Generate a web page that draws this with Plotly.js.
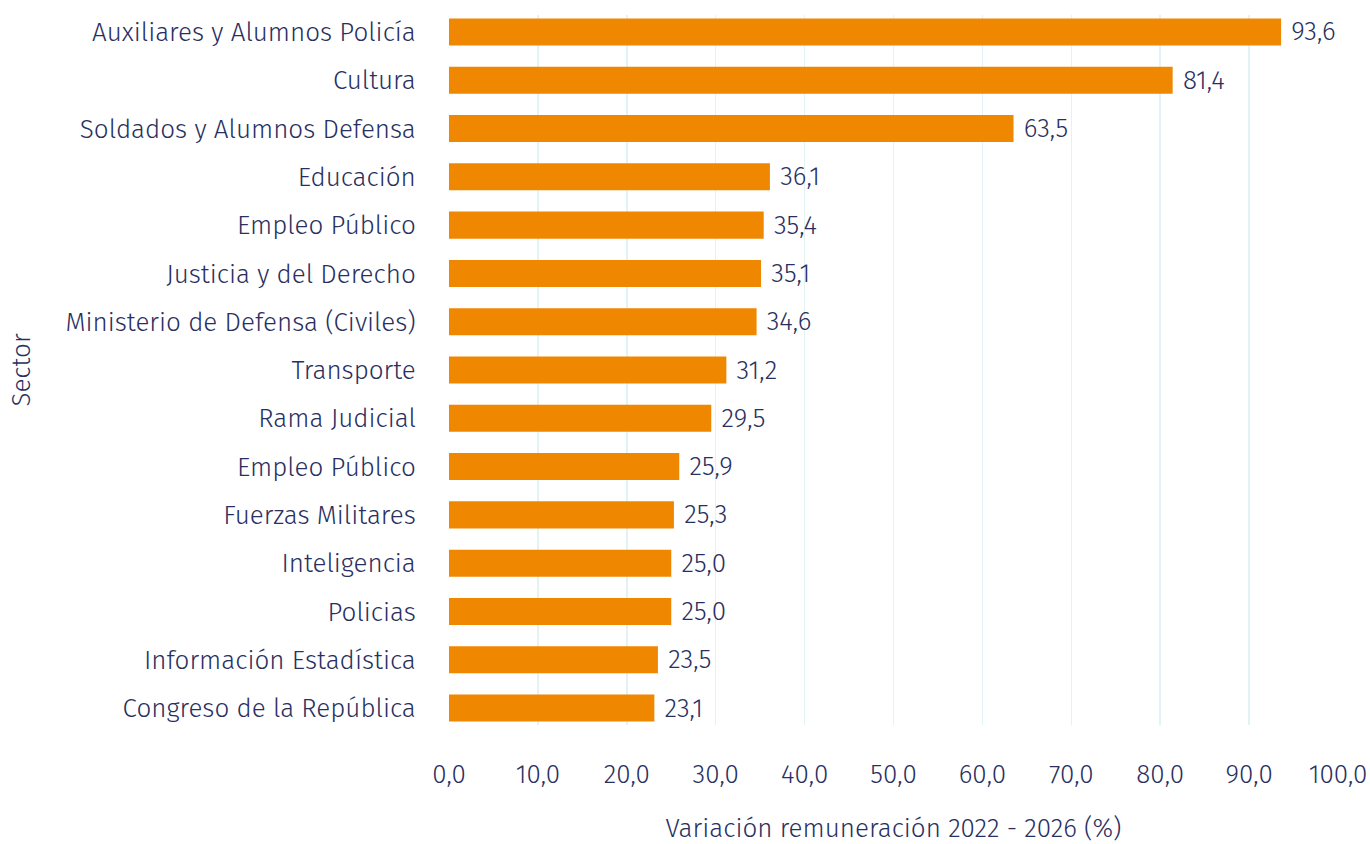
<!DOCTYPE html>
<html><head><meta charset="utf-8">
<script src="https://cdn.plot.ly/plotly-3.0.1.min.js"></script>
<style>html,body{margin:0;padding:0;background:#fff}</style>
</head><body>
<div id="chart" style="width:1370px;height:844px"></div>
<script>
const sectors = ["Auxiliares y Alumnos Policía","Cultura","Soldados y Alumnos Defensa","Educación","Empleo Público","Justicia y del Derecho","Ministerio de Defensa (Civiles)","Transporte","Rama Judicial","Empleo Público\u200B","Fuerzas Militares","Inteligencia","Policias","Información Estadística","Congreso de la República"];
const values = [93.6,81.4,63.5,36.1,35.4,35.1,34.6,31.2,29.5,25.9,25.3,25.0,25.0,23.5,23.1];
const xTicks = [0,10,20,30,40,50,60,70,80,90,100];

const txt = '#29305F';
const fnt = "Fira Sans, 'Noto Sans', sans-serif";
Plotly.newPlot('chart', [{
  type:'bar', orientation:'h',
  x: values, y: sectors,
  marker:{color:'#F08700'},
  width:0.56,
  text: values, texttemplate:' %{x:.1f}', textposition:'outside',
  constraintext:'none',
  textfont:{color:txt,size:26,family:fnt,weight:300},
  cliponaxis:false,
  hoverinfo:'x+y'
}], {
  width:1370, height:844,
  separators:',.',
  margin:{l:449,r:32,t:15,b:119},
  paper_bgcolor:'#fff', plot_bgcolor:'#fff',
  font:{family:fnt,color:txt,size:26,weight:300},
  showlegend:false,
  bargap:0.44,
  xaxis:{range:[0,100], tickvals:xTicks, tickformat:'.1f', showgrid:true, gridcolor:'#E3F2F2', gridwidth:1.5,
    zeroline:false, showline:false, ticks:'outside', ticklen:26, tickcolor:'rgba(0,0,0,0)',
    tickfont:{size:26,color:txt,family:fnt,weight:300},
    title:{text:'Variación remuneración 2022 - 2026 (%)', font:{size:26,color:txt,family:fnt,weight:300}, standoff:39}, automargin:false},
  yaxis:{type:'category', categoryorder:'array', categoryarray:sectors, autorange:false, range:[14.35,-0.35],
    showgrid:false, zeroline:false, showline:false, ticks:'outside', ticklen:27, tickcolor:'rgba(0,0,0,0)',
    tickfont:{size:26,color:txt,family:fnt,weight:300},
    title:{text:'Sector', font:{size:26,color:txt,family:fnt,weight:300}, standoff:27}, automargin:false}
}, {displayModeBar:false, staticPlot:true});
</script>
</body></html>
